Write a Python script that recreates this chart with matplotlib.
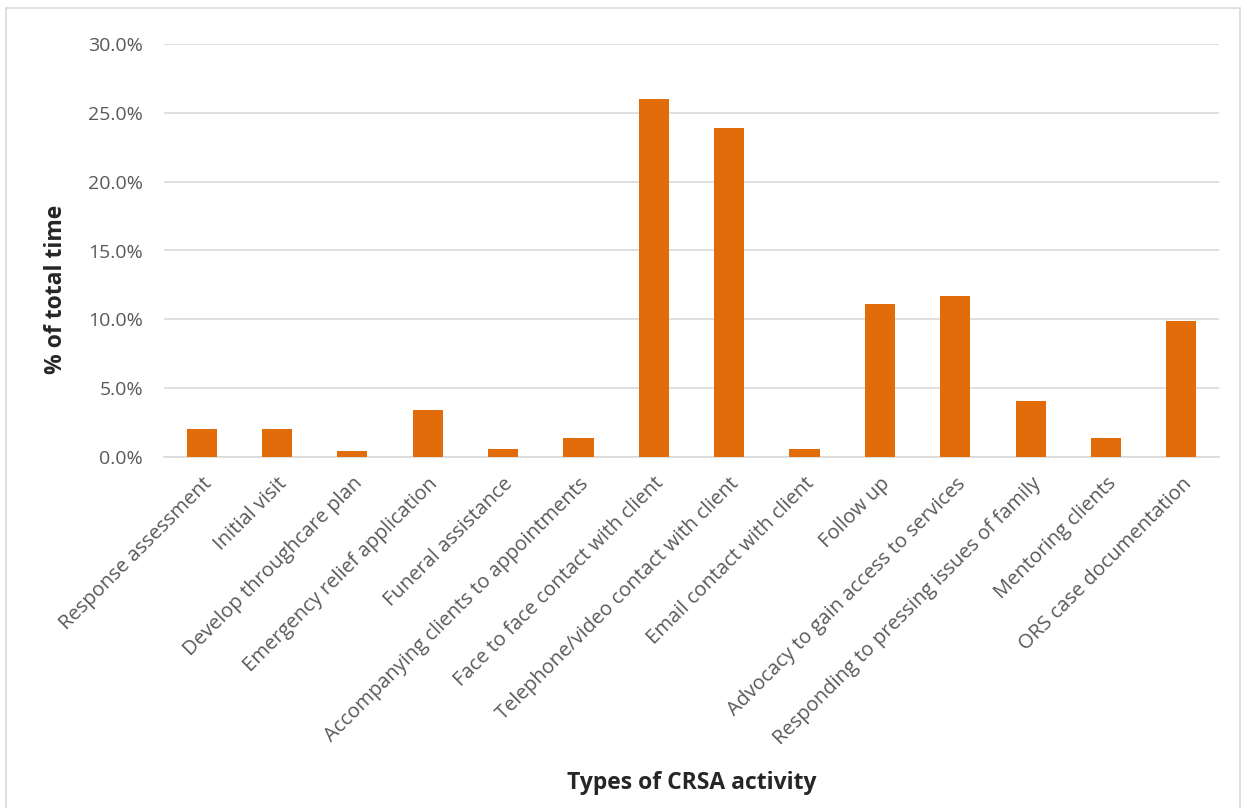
import matplotlib
matplotlib.use("Agg")
import matplotlib.pyplot as plt
from matplotlib.patches import Rectangle
from matplotlib.ticker import FuncFormatter, MultipleLocator

activities = [
    "Response assessment",
    "Initial visit",
    "Develop throughcare plan",
    "Emergency relief application",
    "Funeral assistance",
    "Accompanying clients to appointments",
    "Face to face contact with client",
    "Telephone/video contact with client",
    "Email contact with client",
    "Follow up",
    "Advocacy to gain access to services",
    "Responding to pressing issues of family",
    "Mentoring clients",
    "ORS case documentation",
]
share_of_time = [2.0, 2.0, 0.4, 3.4, 0.6, 1.4, 26.0, 23.9, 0.6, 11.1, 11.7, 4.1, 1.4, 9.9]

BAR_COLOR = "#E36C0A"
GRID_COLOR = "#D9D9D9"
TICK_COLOR = "#595959"
FONT = ["Open Sans", "DejaVu Sans"]

plt.rcParams["font.family"] = FONT

W, H = 1247, 808
fig = plt.figure(figsize=(W / 100, H / 100), dpi=100)

# light chart-area frame
fig.patches.append(Rectangle((6 / W, -0.01), (1240 - 6) / W, 1 - 8 / H + 0.01,
                             transform=fig.transFigure, fill=False,
                             edgecolor="#D9D9D9", linewidth=1.2))

ax = fig.add_axes([164 / W, 1 - 457 / H, (1219 - 164) / W, (457 - 44) / H])

x = list(range(len(activities)))
ax.bar(x, share_of_time, width=0.4, color=BAR_COLOR, zorder=3)

ax.set_xlim(-0.5, len(activities) - 0.5)
ax.set_ylim(0, 30)
ax.yaxis.set_major_locator(MultipleLocator(5))
ax.yaxis.set_major_formatter(FuncFormatter(lambda v, _: f"{v:.1f}%"))
ax.grid(axis="y", color=GRID_COLOR, linewidth=1.2, zorder=0)
ax.set_axisbelow(True)

for side in ("top", "right", "left"):
    ax.spines[side].set_visible(False)
ax.spines["bottom"].set_color(GRID_COLOR)
ax.spines["bottom"].set_linewidth(1.2)

ax.tick_params(axis="both", length=0, colors=TICK_COLOR, labelsize=14)
ax.tick_params(axis="y", pad=15)
ax.set_xticks(x)
ax.set_xticklabels(activities, rotation=45, ha="right", rotation_mode="anchor",
                   fontsize=14.5, color=TICK_COLOR)
ax.tick_params(axis="x", pad=12)

fig.text(56 / W, 1 - 289 / H, "% of total time", rotation=90, ha="center", va="center",
         fontsize=16.5, fontweight="bold", color="#262626")
fig.text(692 / W, 1 - 783 / H, "Types of CRSA activity", ha="center", va="center",
         fontsize=16.5, fontweight="bold", color="#262626")

fig.savefig("out.png", dpi=100)
